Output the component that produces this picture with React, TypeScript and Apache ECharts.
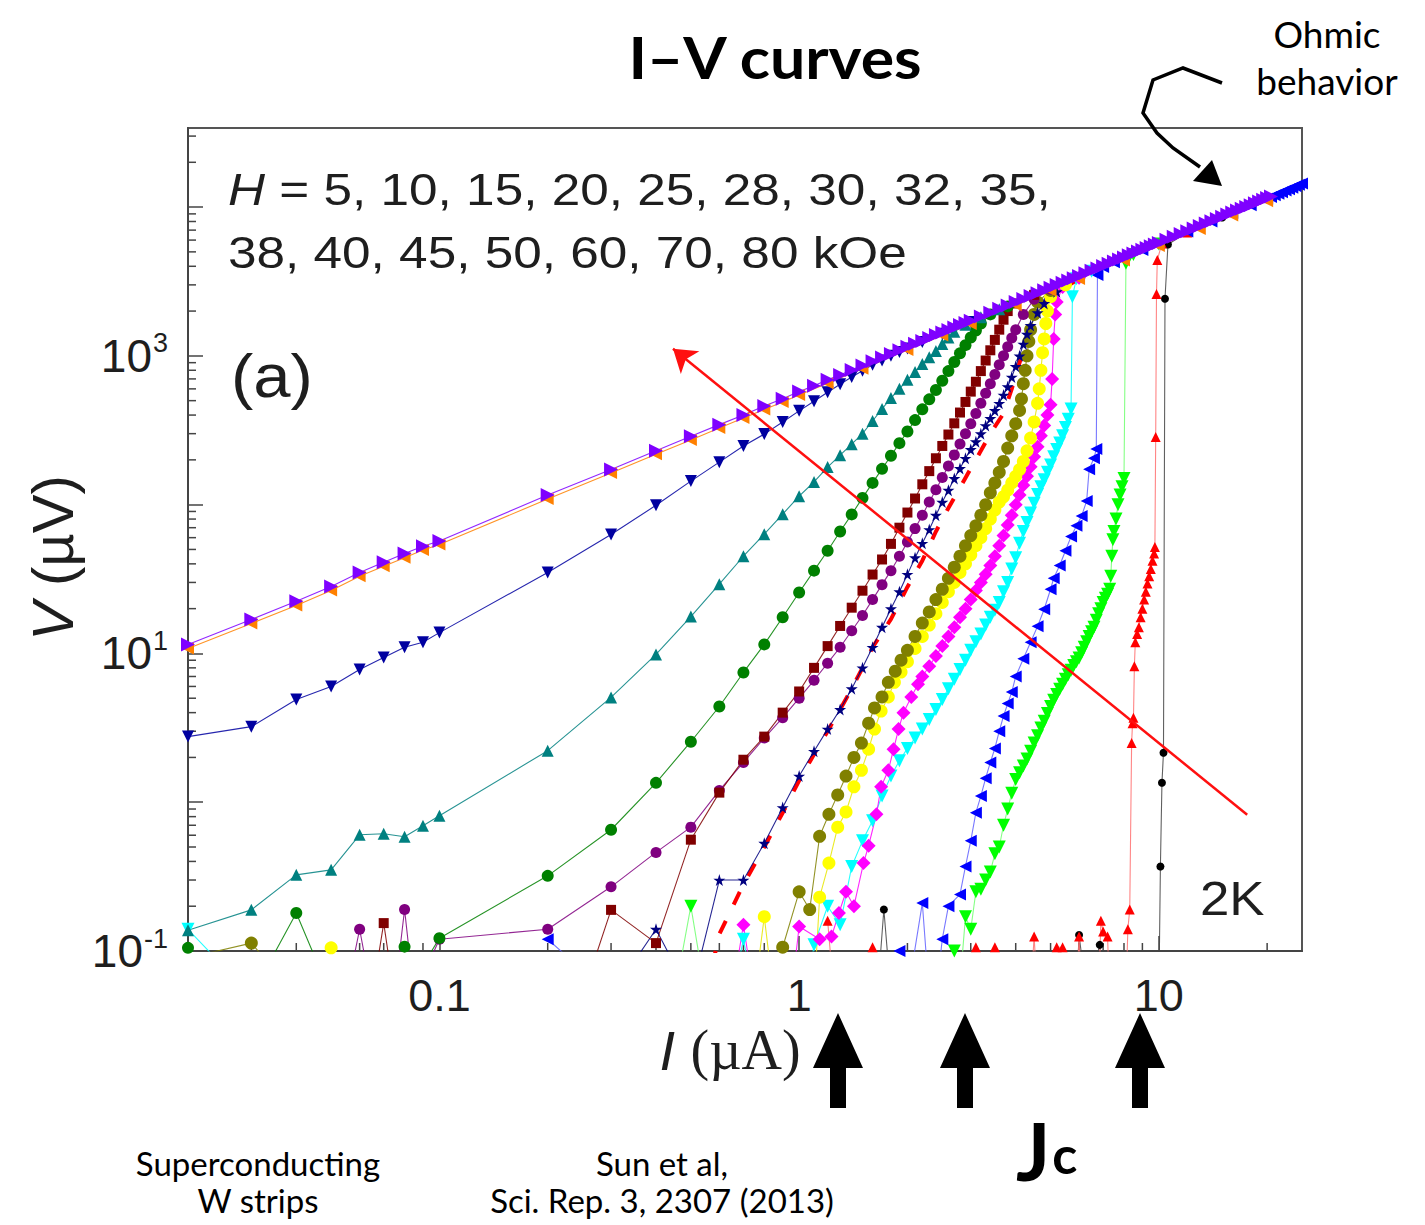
import React, { useEffect, useRef } from 'react';
import * as echarts from 'echarts';

type P = [number, number];

// ---------- axis setup ----------
const X_MIN = 0.02;
const X_MAX = 25;
const Y_MIN = 0.1;
const Y_MAX = 34000;
const xTickLabels = ['0.1', '1', '10']; // exponents -1, 0, 1
const yLabelExponents = [-1, 1, 3];
const xMinorTicks = [0.03, 0.04, 0.05, 0.06, 0.07, 0.08, 0.09, 0.2, 0.3, 0.4, 0.5, 0.6, 0.7, 0.8, 0.9, 2, 3, 4, 5, 6, 7, 8, 9, 20];
const yMinorTicks = [
  0.2, 0.3, 0.4, 0.5, 0.6, 0.7, 0.8, 0.9,
  2, 3, 4, 5, 6, 7, 8, 9,
  20, 30, 40, 50, 60, 70, 80, 90,
  200, 300, 400, 500, 600, 700, 800, 900,
  2000, 3000, 4000, 5000, 6000, 7000, 8000, 9000,
  20000, 30000,
];

// ---------- data: I (µA), V (µV) ----------
const h5Black: P[] = [[1.65, 0.05], [1.72, 0.19], [1.8, 0.05], [5.9, 0.05], [6.0, 0.128], [6.3, 0.05], [6.85, 0.11], [7.0, 0.05], [10.0, 0.05], [10.1, 0.37], [10.2, 1.35], [10.3, 2.15], [10.4, 2420], [10.6, 5600], [12, 6800], [15, 8500], [20, 11300]];
const h10Red: P[] = [[1.2, 0.16], [1.25, 0.05], [1.55, 0.05], [1.6, 0.106], [1.65, 0.05], [3.0, 0.05], [3.1, 0.106], [3.2, 0.05], [3.4, 0.05], [3.5, 0.106], [3.6, 0.05], [4.4, 0.05], [4.5, 0.125], [4.6, 0.05], [5.1, 0.05], [5.2, 0.106], [5.4, 0.106], [5.5, 0.05], [5.9, 0.05], [6.0, 0.125], [6.1, 0.05], [6.8, 0.05], [6.9, 0.16], [7.0, 0.135], [7.2, 0.125], [7.3, 0.05], [8.1, 0.05], [8.2, 0.14], [8.3, 0.19], [8.4, 2.5], [8.45, 3.4], [8.5, 3.7], [8.55, 8.2], [8.6, 11.9], [8.7, 13.5], [8.8, 15], [8.9, 17.5], [9.0, 20], [9.1, 23], [9.2, 26], [9.3, 29.5], [9.4, 33], [9.5, 37], [9.6, 42], [9.7, 47], [9.75, 52], [9.8, 285], [9.85, 2600], [9.9, 4400], [10.2, 5700], [12, 6750]];
const h15Lime: P[] = [[0.45, 0.05], [0.5, 0.2], [0.55, 0.05], [2.6, 0.05], [2.7, 0.1], [2.8, 0.06], [2.9, 0.17], [3.0, 0.14], [3.1, 0.25], [3.2, 0.26], [3.3, 0.3], [3.4, 0.34], [3.5, 0.45], [3.6, 0.5], [3.7, 0.7], [3.8, 0.9], [3.9, 1.15], [4.0, 1.42], [4.1, 1.58], [4.2, 1.75], [4.3, 1.95], [4.4, 2.2], [4.5, 2.5], [4.6, 2.8], [4.7, 3.15], [4.8, 3.5], [4.9, 3.95], [5.0, 4.4], [5.1, 4.85], [5.2, 5.3], [5.3, 5.75], [5.4, 6.2], [5.5, 6.7], [5.6, 7.2], [5.7, 7.7], [5.8, 8.3], [5.9, 8.8], [6.0, 9.3], [6.1, 10.1], [6.2, 11], [6.3, 12], [6.4, 13], [6.5, 14], [6.6, 15], [6.7, 16.7], [6.8, 18.5], [6.9, 20], [7.0, 22], [7.1, 23.5], [7.2, 25], [7.3, 27], [7.35, 33], [7.4, 45], [7.45, 58], [7.5, 66], [7.6, 80], [7.7, 100], [7.8, 116], [7.9, 132], [8.0, 150], [8.1, 4200], [8.5, 4800], [10, 5650]];
const h20Blue: P[] = [[0.2, 0.12], [0.3, 0.05], [1.85, 0.05], [1.9, 0.1], [2.0, 0.05], [2.2, 0.21], [2.3, 0.05], [2.4, 0.05], [2.5, 0.12], [2.6, 0.2], [2.8, 0.24], [2.9, 0.37], [3.0, 0.55], [3.1, 0.85], [3.2, 1.1], [3.3, 1.45], [3.4, 1.85], [3.5, 2.3], [3.6, 3.0], [3.7, 3.8], [3.8, 4.6], [3.9, 5.5], [4.0, 7.0], [4.2, 9.2], [4.4, 11.9], [4.6, 15.2], [4.8, 19.8], [5.0, 27], [5.1, 32], [5.3, 39], [5.5, 49], [5.7, 61], [5.9, 72], [6.1, 84], [6.3, 106], [6.4, 173], [6.6, 205], [6.7, 237], [6.75, 3500], [7.0, 3950], [7.5, 4250], [8, 4550], [9, 5150], [10, 5700], [12, 6850], [14, 8000], [16, 9150], [18, 10300], [20, 11400], [20.5, 11700], [21, 12000], [21.5, 12300], [22, 12600], [22.5, 12900], [23, 13200], [23.5, 13500], [24, 13800], [24.5, 14100], [25, 14400]];
const h25Cyan: P[] = [[0.02, 0.14], [0.03, 0.05], [0.65, 0.05], [0.7, 0.12], [0.75, 0.05], [1.05, 0.05], [1.1, 0.11], [1.2, 0.2], [1.3, 0.15], [1.4, 0.37], [1.5, 0.55], [1.6, 0.75], [1.7, 1.1], [1.8, 1.5], [1.9, 1.9], [2.0, 2.3], [2.1, 2.7], [2.2, 3.1], [2.3, 3.6], [2.4, 4.2], [2.5, 4.9], [2.6, 5.8], [2.7, 6.7], [2.8, 7.8], [2.9, 9.0], [3.0, 10.5], [3.1, 12], [3.2, 13.5], [3.3, 15.5], [3.4, 17.5], [3.5, 19.5], [3.6, 22], [3.7, 26], [3.8, 30], [3.9, 37], [4.0, 44], [4.1, 55], [4.2, 66], [4.3, 76], [4.4, 88], [4.5, 102], [4.6, 117], [4.7, 132], [4.8, 147], [4.9, 165], [5.0, 185], [5.1, 210], [5.2, 235], [5.3, 260], [5.4, 290], [5.5, 330], [5.6, 375], [5.7, 440], [5.75, 2500], [5.9, 3300], [6.5, 3700]];
const h28Magenta: P[] = [[0.65, 0.05], [0.7, 0.15], [0.75, 0.05], [0.95, 0.05], [1.0, 0.146], [1.14, 0.12], [1.23, 0.125], [1.29, 0.18], [1.35, 0.25], [1.42, 0.2], [1.51, 0.39], [1.56, 0.51], [1.64, 0.83], [1.69, 1.27], [1.77, 1.64], [1.83, 2.27], [1.89, 3.1], [1.95, 4.0], [2.05, 5.1], [2.14, 6.2], [2.2, 7.0], [2.3, 8.2], [2.4, 9.6], [2.5, 11.2], [2.6, 13], [2.7, 15], [2.8, 17.5], [2.9, 20], [3.0, 23], [3.1, 26.5], [3.2, 30], [3.3, 34], [3.4, 39], [3.5, 45], [3.6, 53], [3.7, 62], [3.8, 73], [3.9, 85], [4.0, 100], [4.1, 116], [4.2, 135], [4.3, 155], [4.4, 180], [4.5, 210], [4.6, 245], [4.7, 290], [4.8, 340], [4.9, 400], [5.0, 470], [5.05, 700], [5.1, 1300], [5.15, 1900], [5.2, 2300], [5.4, 2900], [6.0, 3350]];
const h30Yellow: P[] = [[0.05, 0.105], [0.055, 0.05], [0.75, 0.05], [0.8, 0.17], [0.85, 0.05], [1.1, 0.05], [1.14, 0.23], [1.21, 0.39], [1.28, 0.68], [1.35, 0.86], [1.42, 1.27], [1.49, 1.64], [1.56, 2.27], [1.62, 3.1], [1.69, 4.1], [1.77, 5.1], [1.84, 6.4], [1.92, 7.5], [2.0, 8.8], [2.1, 10.8], [2.2, 13], [2.3, 15.5], [2.4, 18.5], [2.5, 22], [2.6, 26], [2.7, 30], [2.8, 35], [2.9, 40], [3.0, 46], [3.1, 53], [3.2, 60], [3.3, 69], [3.4, 80], [3.5, 92], [3.6, 104], [3.7, 113], [3.8, 125], [3.9, 140], [4.0, 155], [4.1, 172], [4.2, 195], [4.3, 230], [4.4, 280], [4.5, 360], [4.6, 480], [4.65, 600], [4.7, 800], [4.75, 1050], [4.8, 1300], [4.85, 1650], [4.9, 2000], [5.0, 2500], [5.5, 3000]];
const h32Olive: P[] = [[0.02, 0.09], [0.03, 0.113], [0.04, 0.05], [0.85, 0.05], [0.9, 0.106], [1.0, 0.25], [1.07, 0.19], [1.14, 0.59], [1.21, 0.83], [1.28, 1.12], [1.35, 1.5], [1.42, 2.0], [1.49, 2.5], [1.56, 3.4], [1.62, 4.3], [1.7, 5.1], [1.77, 6.4], [1.85, 7.6], [1.92, 9.0], [2.0, 10.5], [2.1, 13], [2.2, 16], [2.3, 19], [2.4, 23], [2.5, 27], [2.6, 32], [2.7, 38], [2.8, 45], [2.9, 53], [3.0, 62], [3.1, 72], [3.2, 85], [3.3, 100], [3.4, 120], [3.5, 140], [3.6, 165], [3.7, 195], [3.8, 240], [3.9, 290], [4.0, 350], [4.1, 430], [4.15, 513], [4.2, 650], [4.25, 800], [4.3, 1000], [4.35, 1250], [4.4, 1500], [4.5, 1900], [4.6, 2300], [5.0, 2750]];
const h35RedDash: P[] = [[0.55, 0.05], [0.6, 0.13], [0.7, 0.28], [0.8, 0.5], [0.9, 0.85], [1.0, 1.4], [1.1, 2.1], [1.2, 3.0], [1.3, 4.2], [1.4, 5.8], [1.5, 8.0], [1.6, 11], [1.8, 17], [2.0, 28], [2.2, 42], [2.4, 66], [2.6, 95], [2.8, 130], [3.0, 175], [3.2, 230], [3.4, 300], [3.7, 410], [3.9, 600], [4.1, 900], [4.3, 1300], [4.5, 1800], [5.0, 2500], [6.0, 3300]];
const h38NavyStar: P[] = [[0.3, 0.05], [0.4, 0.14], [0.5, 0.05], [0.6, 0.3], [0.7, 0.3], [0.8, 0.53], [0.9, 0.92], [1.0, 1.5], [1.1, 2.2], [1.2, 3.1], [1.3, 4.2], [1.4, 5.8], [1.5, 8], [1.6, 11], [1.7, 15], [1.8, 20], [1.9, 26], [2.0, 34], [2.1, 44], [2.2, 55], [2.3, 68], [2.4, 85], [2.5, 104], [2.6, 125], [2.7, 150], [2.8, 175], [2.9, 205], [3.0, 235], [3.1, 265], [3.2, 300], [3.3, 340], [3.4, 380], [3.5, 430], [3.6, 480], [3.7, 545], [3.8, 620], [3.9, 720], [4.0, 850], [4.1, 1000], [4.2, 1200], [4.3, 1400], [4.4, 1600], [4.6, 1950], [4.8, 2250], [5.2, 2700]];
const h40Purple: P[] = [[0.055, 0.05], [0.06, 0.14], [0.065, 0.05], [0.075, 0.05], [0.08, 0.19], [0.085, 0.05], [0.1, 0.12], [0.2, 0.14], [0.3, 0.27], [0.4, 0.46], [0.5, 0.68], [0.6, 1.2], [0.7, 1.85], [0.8, 2.7], [0.9, 3.7], [1.0, 5.0], [1.1, 6.6], [1.2, 8.6], [1.3, 11], [1.4, 14.2], [1.5, 18], [1.6, 23], [1.7, 29], [1.8, 36], [1.9, 45], [2.0, 56], [2.1, 69], [2.2, 85], [2.3, 104], [2.4, 126], [2.5, 152], [2.6, 182], [2.7, 216], [2.8, 256], [2.9, 300], [3.0, 350], [3.1, 410], [3.2, 480], [3.3, 560], [3.4, 650], [3.5, 750], [3.6, 870], [3.7, 1000], [3.8, 1150], [3.9, 1320], [4.0, 1500], [4.2, 1900], [4.5, 2400], [5.0, 2800]];
const h45DarkRed: P[] = [[0.065, 0.05], [0.07, 0.154], [0.075, 0.05], [0.25, 0.05], [0.3, 0.189], [0.4, 0.113], [0.5, 0.56], [0.6, 1.16], [0.7, 1.93], [0.8, 2.76], [0.9, 4.0], [1.0, 5.55], [1.1, 8.0], [1.2, 11.2], [1.3, 15.3], [1.4, 20.3], [1.5, 26.4], [1.6, 33.9], [1.7, 42.8], [1.8, 54.5], [1.9, 70], [2.0, 88.5], [2.1, 110], [2.2, 137], [2.3, 168], [2.4, 205], [2.5, 248], [2.6, 296], [2.7, 352], [2.8, 416], [2.9, 490], [3.0, 575], [3.1, 670], [3.2, 790], [3.3, 930], [3.4, 1090], [3.5, 1280], [3.6, 1500], [3.7, 1750], [3.8, 2000], [4.0, 2250], [4.5, 2570]];
const h50DarkGreen: P[] = [[0.02, 0.105], [0.03, 0.05], [0.04, 0.18], [0.05, 0.05], [0.07, 0.05], [0.08, 0.107], [0.09, 0.08], [0.1, 0.122], [0.2, 0.32], [0.3, 0.653], [0.4, 1.35], [0.5, 2.55], [0.6, 4.4], [0.7, 7.45], [0.8, 11.5], [0.9, 17.5], [1.0, 25.7], [1.1, 36], [1.2, 49], [1.3, 66], [1.4, 86], [1.5, 111], [1.6, 140], [1.7, 174], [1.8, 213], [1.9, 259], [2.0, 310], [2.1, 370], [2.2, 437], [2.3, 510], [2.4, 590], [2.5, 680], [2.6, 790], [2.7, 910], [2.8, 1040], [2.9, 1180], [3.0, 1330], [3.1, 1480], [3.2, 1650], [3.4, 1900], [3.8, 2150]];
const h60Teal: P[] = [[0.02, 0.138], [0.03, 0.189], [0.04, 0.325], [0.05, 0.351], [0.06, 0.604], [0.07, 0.614], [0.08, 0.586], [0.09, 0.695], [0.1, 0.811], [0.2, 2.22], [0.3, 5.06], [0.4, 9.84], [0.5, 17.7], [0.6, 29.2], [0.7, 45], [0.8, 63.3], [0.9, 86.3], [1.0, 114], [1.1, 142], [1.2, 179], [1.3, 215], [1.4, 255], [1.5, 300], [1.6, 365], [1.7, 440], [1.8, 520], [1.9, 600], [2.0, 690], [2.1, 780], [2.2, 880], [2.3, 980], [2.4, 1080], [2.5, 1200], [2.6, 1330], [2.7, 1450], [2.9, 1620], [3.2, 1820], [3.6, 2060]];
const h70Navy: P[] = [[0.02, 2.76], [0.03, 3.22], [0.04, 4.9], [0.05, 6.0], [0.06, 7.8], [0.07, 9.4], [0.08, 11.0], [0.09, 11.9], [0.1, 13.8], [0.2, 35], [0.3, 63], [0.4, 99], [0.5, 144], [0.6, 193], [0.7, 248], [0.8, 298], [0.9, 359], [1.0, 427], [1.1, 495], [1.2, 570], [1.3, 645], [1.4, 720], [1.5, 795], [1.6, 870], [1.7, 930], [1.8, 1000], [1.9, 1060], [2.0, 1120], [2.2, 1240], [2.5, 1410], [3.0, 1690]];
const h80Orange: P[] = [[0.02, 10.8], [0.03, 15.9], [0.04, 21], [0.05, 26.5], [0.06, 33], [0.07, 38.5], [0.08, 44], [0.09, 49.5], [0.1, 54], [0.2, 109], [0.3, 163], [0.4, 218], [0.5, 272], [0.6, 327], [0.7, 382], [0.8, 436], [0.9, 490], [1.0, 545], [1.2, 655], [1.5, 820], [2.0, 1095], [2.5, 1370], [3.0, 1640], [4.0, 2190], [5.0, 2740], [6.0, 3290], [8.0, 4380], [10, 5480], [13, 7120], [16, 8770], [20, 10960]];
const h80Violet: P[] = [[0.02, 11.5], [0.03, 16.9], [0.04, 22.4], [0.05, 28.2], [0.06, 35], [0.07, 41], [0.08, 47], [0.09, 52.5], [0.1, 57], [0.2, 116], [0.3, 172], [0.4, 230], [0.5, 288], [0.6, 345], [0.7, 400], [0.8, 460], [0.9, 515], [1.0, 575], [1.1, 630], [1.2, 690], [1.3, 745], [1.4, 805], [1.5, 860], [1.6, 920], [1.7, 975], [1.8, 1030], [1.9, 1090], [2.0, 1150], [2.1, 1205], [2.2, 1260], [2.3, 1320], [2.4, 1380], [2.5, 1435], [2.6, 1490], [2.7, 1550], [2.8, 1610], [2.9, 1665], [3.0, 1720], [3.2, 1840], [3.4, 1950], [3.6, 2070], [3.8, 2180], [4.0, 2300], [4.2, 2410], [4.4, 2530], [4.6, 2640], [4.8, 2760], [5.0, 2870], [5.2, 2990], [5.4, 3100], [5.6, 3210], [5.8, 3330], [6.0, 3440], [6.25, 3590], [6.5, 3730], [6.75, 3870], [7.0, 4020], [7.25, 4160], [7.5, 4300], [7.75, 4450], [8.0, 4590], [8.25, 4740], [8.5, 4880], [8.75, 5020], [9.0, 5170], [9.25, 5310], [9.5, 5450], [9.75, 5600], [10, 5740], [10.5, 6030], [11, 6310], [11.5, 6600], [12, 6890], [12.5, 7170], [13, 7460], [13.5, 7750], [14, 8040], [14.5, 8320], [15, 8610], [15.5, 8900], [16, 9180], [16.5, 9470], [17, 9760], [17.5, 10000], [18, 10300], [18.5, 10600], [19, 10900], [19.5, 11200], [20, 11500], [20.5, 11800]];

// red guide arrow (data coordinates: tail, head)
const redGuide: P[] = [[17.6, 0.824], [0.446, 1115]];

const STAR = 'path://M50 0 L61 35 L98 35 L68 57 L79 91 L50 70 L21 91 L32 57 L2 35 L39 35 Z';

type Def = { name: string; data: P[]; color: string; line?: string; symbol: string; size: number; rotate?: number; dash?: boolean; width?: number };

const defs: Def[] = [
  { name: '5 kOe', data: h5Black, color: '#000000', line: '#444444', symbol: 'circle', size: 8 },
  { name: '10 kOe', data: h10Red, color: '#ff0000', line: '#ff7070', symbol: 'triangle', size: 10 },
  { name: '15 kOe', data: h15Lime, color: '#00ff00', line: '#70ff70', symbol: 'triangle', size: 13, rotate: 180 },
  { name: '20 kOe', data: h20Blue, color: '#0000ff', line: '#6060ff', symbol: 'triangle', size: 12, rotate: 90 },
  { name: '25 kOe', data: h25Cyan, color: '#00ffff', symbol: 'triangle', size: 13, rotate: 180 },
  { name: '28 kOe', data: h28Magenta, color: '#ff00ff', symbol: 'diamond', size: 14 },
  { name: '30 kOe', data: h30Yellow, color: '#ffff00', line: '#e6e600', symbol: 'circle', size: 13 },
  { name: '32 kOe', data: h32Olive, color: '#808000', symbol: 'circle', size: 13 },
  { name: '35 kOe', data: h35RedDash, color: '#ff0000', symbol: 'none', size: 0, dash: true, width: 4 },
  { name: '38 kOe', data: h38NavyStar, color: '#000080', symbol: STAR, size: 12 },
  { name: '40 kOe', data: h40Purple, color: '#800080', symbol: 'circle', size: 11 },
  { name: '45 kOe', data: h45DarkRed, color: '#800000', symbol: 'rect', size: 10 },
  { name: '50 kOe', data: h50DarkGreen, color: '#008000', symbol: 'circle', size: 12 },
  { name: '60 kOe', data: h60Teal, color: '#008080', symbol: 'triangle', size: 12 },
  { name: '70 kOe', data: h70Navy, color: '#0000a0', symbol: 'triangle', size: 12, rotate: 180 },
  { name: '80 kOe (orange)', data: h80Orange, color: '#ff8000', symbol: 'triangle', size: 12, rotate: 90 },
  { name: '80 kOe', data: h80Violet, color: '#7f00ff', symbol: 'triangle', size: 14, rotate: -90 },
];

const FONT = 'Liberation Sans, Arial, sans-serif';
const GILL = 'Lato, "Open Sans", sans-serif';
const INK = '#1e1e1e';

function buildOption() {
  const lineSeries = defs.map((d) => ({
    type: 'line',
    name: d.name,
    data: d.data,
    symbol: d.symbol,
    symbolSize: d.size,
    symbolRotate: d.rotate || 0,
    showSymbol: d.symbol !== 'none',
    clip: true,
    silent: true,
    z: 3,
    itemStyle: { color: d.color, opacity: 1 },
    lineStyle: { color: d.line || d.color, width: d.width || 1.1, type: d.dash ? [14, 18] : 'solid', opacity: d.dash ? 1 : 0.85 },
    emphasis: { disabled: true },
  }));

  const minorX = {
    type: 'custom',
    silent: true,
    clip: false,
    z: 1,
    data: xMinorTicks.map((v) => [v, Y_MIN]),
    renderItem: (_p: any, api: any) => {
      const pt = api.coord([api.value(0), api.value(1)]);
      return { type: 'line', shape: { x1: pt[0], y1: pt[1], x2: pt[0], y2: pt[1] - 8 }, style: { stroke: '#444', lineWidth: 1.5 } };
    },
  };
  const minorY = {
    type: 'custom',
    silent: true,
    clip: false,
    z: 1,
    data: yMinorTicks.map((v) => [X_MIN, v]),
    renderItem: (_p: any, api: any) => {
      const pt = api.coord([api.value(0), api.value(1)]);
      return { type: 'line', shape: { x1: pt[0], y1: pt[1], x2: pt[0] + 8, y2: pt[1] }, style: { stroke: '#444', lineWidth: 1.5 } };
    },
  };

  const guide = {
    type: 'lines',
    coordinateSystem: 'cartesian2d',
    silent: true,
    z: 10,
    symbol: ['none', 'arrow'],
    symbolSize: [1, 22],
    lineStyle: { color: '#ff1010', width: 2.5, opacity: 1, curveness: 0 },
    data: [{ coords: redGuide }],
  };

  const arrowsX = [838, 965, 1140];
  const bigArrows = arrowsX.map((x) => ({
    type: 'polygon',
    z: 100,
    shape: { points: [[x, 1013], [x + 25, 1068], [x + 8, 1068], [x + 8, 1108], [x - 8, 1108], [x - 8, 1068], [x - 25, 1068]] },
    style: { fill: '#000' },
  }));

  const graphic: any[] = [
    { type: 'text', x: 775, y: 56, z: 100, scaleX: 1.08, style: { text: 'I–V curves', fontFamily: GILL, fontWeight: 'bold', fontSize: 58, fill: '#000', align: 'center', verticalAlign: 'middle' } },
    { type: 'text', x: 1327, y: 33, z: 100, style: { text: 'Ohmic', fontFamily: GILL, fontSize: 37, fill: '#000', align: 'center', verticalAlign: 'middle' } },
    { type: 'text', x: 1327, y: 80, z: 100, style: { text: 'behavior', fontFamily: GILL, fontSize: 37, fill: '#000', align: 'center', verticalAlign: 'middle' } },
    { type: 'polyline', z: 100, shape: { points: [[1222, 83], [1183, 68], [1153, 80], [1143, 113], [1157, 133], [1173, 148], [1200, 167]] }, style: { stroke: '#000', lineWidth: 3.5, fill: 'none' } },
    { type: 'polygon', z: 100, shape: { points: [[1222, 186], [1193, 181], [1212, 160]] }, style: { fill: '#000' } },
    { type: 'text', x: 228, y: 189, z: 100, scaleX: 1.14, style: { text: '{i|H} = 5, 10, 15, 20, 25, 28, 30, 32, 35,', fontFamily: FONT, fontSize: 45, fill: INK, align: 'left', verticalAlign: 'middle', rich: { i: { fontFamily: FONT, fontSize: 45, fontStyle: 'italic', fill: INK } } } },
    { type: 'text', x: 228, y: 252, z: 100, scaleX: 1.14, style: { text: '38, 40, 45, 50, 60, 70, 80 kOe', fontFamily: FONT, fontSize: 45, fill: INK, align: 'left', verticalAlign: 'middle' } },
    { type: 'text', x: 231, y: 376, z: 100, scaleX: 1.08, style: { text: '(a)', fontFamily: FONT, fontSize: 62, fill: INK, align: 'left', verticalAlign: 'middle' } },
    { type: 'text', x: 1200, y: 898, z: 100, scaleX: 1.1, style: { text: '2K', fontFamily: FONT, fontSize: 48, fill: INK, align: 'left', verticalAlign: 'middle' } },
    { type: 'text', x: 52, y: 558, z: 100, rotation: Math.PI / 2, style: { text: '{i|V} (µV)', fontFamily: FONT, fontSize: 58, fill: INK, align: 'center', verticalAlign: 'middle', rich: { i: { fontFamily: FONT, fontSize: 58, fontStyle: 'italic', fill: INK } } } },
    { type: 'text', x: 730, y: 1050, z: 100, style: { text: '{i|I} {s|(µA)}', fontFamily: FONT, fontSize: 56, fill: INK, align: 'center', verticalAlign: 'middle', rich: { i: { fontFamily: FONT, fontSize: 56, fontStyle: 'italic', fill: INK }, s: { fontFamily: 'Liberation Serif, serif', fontSize: 56, fill: INK } } } },
    ...bigArrows,
    { type: 'text', x: 1016, y: 1150, z: 100, style: { text: '{j|J}{c|c}', fontFamily: GILL, fontWeight: 'bold', fontSize: 80, fill: '#000', align: 'left', verticalAlign: 'middle', rich: { j: { fontFamily: GILL, fontWeight: 'bold', fontSize: 80, fill: '#000', verticalAlign: 'bottom' }, c: { fontFamily: GILL, fontWeight: 'bold', fontSize: 52, fill: '#000', verticalAlign: 'bottom', padding: [0, 0, 10, 2] } } } },
    { type: 'text', x: 258, y: 1163, z: 100, style: { text: 'Superconducting', fontFamily: GILL, fontSize: 33, fill: '#000', align: 'center', verticalAlign: 'middle' } },
    { type: 'text', x: 258, y: 1200, z: 100, style: { text: 'W strips', fontFamily: GILL, fontSize: 33, fill: '#000', align: 'center', verticalAlign: 'middle' } },
    { type: 'text', x: 662, y: 1163, z: 100, style: { text: 'Sun et al,', fontFamily: GILL, fontSize: 33, fill: '#000', align: 'center', verticalAlign: 'middle' } },
    { type: 'text', x: 662, y: 1200, z: 100, style: { text: 'Sci. Rep. 3, 2307 (2013)', fontFamily: GILL, fontSize: 33, fill: '#000', align: 'center', verticalAlign: 'middle' } },
  ];

  const isPow = (v: number) => {
    const e = Math.log10(v);
    const r = Math.round(e);
    return Math.abs(e - r) < 1e-6 ? r : null;
  };

  return {
    animation: false,
    backgroundColor: '#ffffff',
    grid: { left: 188, top: 128, width: 1114, height: 823, show: true, borderColor: '#555', borderWidth: 2, backgroundColor: 'transparent' },
    xAxis: {
      type: 'log',
      logBase: 10,
      min: X_MIN,
      max: X_MAX,
      axisLine: { show: true, lineStyle: { color: '#444', width: 2 } },
      axisTick: { show: true, inside: true, length: 15, lineStyle: { color: '#444', width: 1.5 } },
      splitLine: { show: false },
      minorTick: { show: false },
      axisLabel: {
        margin: 22,
        fontFamily: FONT,
        fontSize: 45,
        color: INK,
        showMinLabel: false,
        showMaxLabel: false,
        formatter: (v: number) => {
          const r = isPow(v);
          if (r === null) return '';
          return xTickLabels[r + 1] ?? '';
        },
      },
    },
    yAxis: {
      type: 'log',
      logBase: 10,
      min: Y_MIN,
      max: Y_MAX,
      axisLine: { show: true, lineStyle: { color: '#444', width: 2 } },
      axisTick: { show: true, inside: true, length: 15, lineStyle: { color: '#444', width: 1.5 } },
      splitLine: { show: false },
      minorTick: { show: false },
      axisLabel: {
        margin: 20,
        showMinLabel: true,
        showMaxLabel: false,
        formatter: (v: number) => {
          const r = isPow(v);
          if (r === null || !yLabelExponents.includes(r)) return '';
          return '{b|10}{s|' + r + '}';
        },
        rich: {
          b: { fontFamily: FONT, fontSize: 46, color: INK, lineHeight: 52 },
          s: { fontFamily: FONT, fontSize: 27, color: INK, verticalAlign: 'top', lineHeight: 52, padding: [0, 0, 0, 1] },
        },
      },
    },
    graphic,
    series: [minorX, minorY, ...lineSeries, guide],
  };
}

export default function App() {
  const ref = useRef<HTMLDivElement>(null);
  useEffect(() => {
    if (!ref.current) return;
    const chart = echarts.init(ref.current, undefined, { renderer: 'svg' });
    chart.setOption(buildOption() as any);
    return () => chart.dispose();
  }, []);
  return <div ref={ref} style={{ position: 'absolute', left: 0, top: 0, width: 1425, height: 1225, background: '#fff' }} />;
}
